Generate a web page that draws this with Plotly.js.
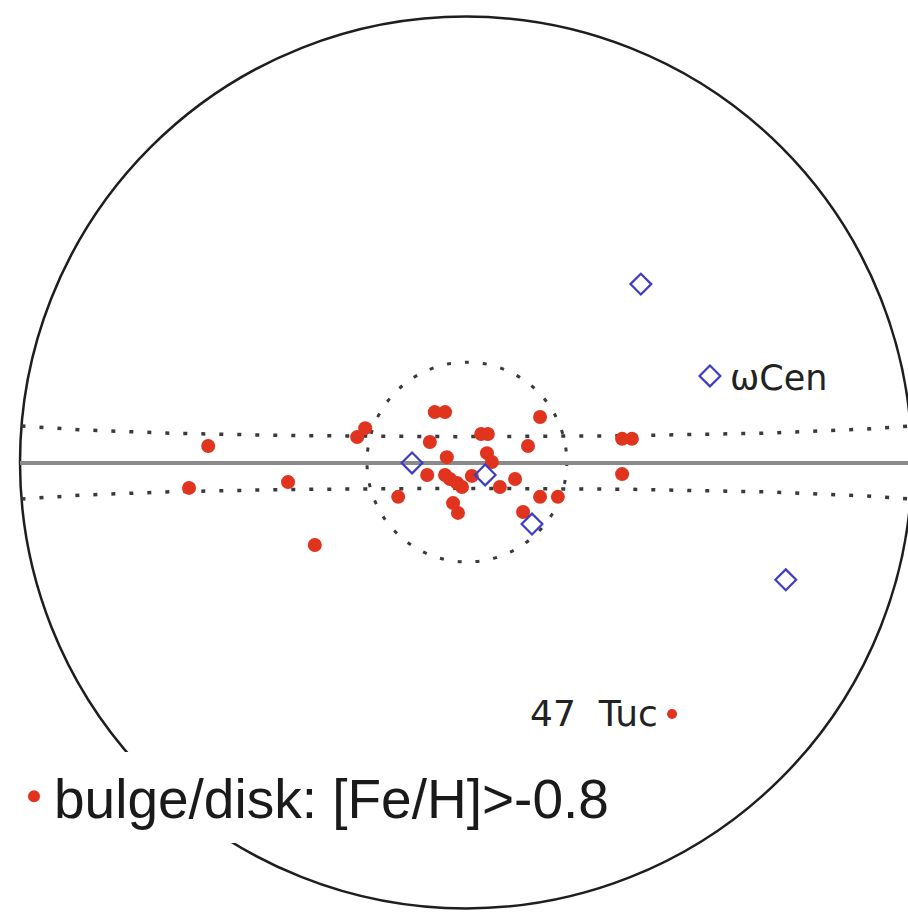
<!DOCTYPE html>
<html>
<head>
<meta charset="utf-8">
<script src="https://cdn.plot.ly/plotly-3.0.1.min.js"></script>
<style>
  html, body { margin: 0; padding: 0; background: #ffffff; }
  #chart { width: 908px; height: 913px; }
</style>
</head>
<body>
<div id="chart"></div>
<script>
// Projected sky positions; the unit circle is the edge of the map.
// Metal-rich bulge/disk clusters
const bulgeX = [-0.578, -0.621, -0.399, -0.339, -0.244, -0.226, -0.152,
                -0.070, -0.047, 0.166, 0.034, 0.049, -0.081, 0.139,
                -0.043, 0.047, 0.058, -0.087, -0.047, -0.036, -0.020,
                -0.009, 0.013, 0.076, 0.110, -0.029, -0.018, 0.128,
                0.166, 0.206, 0.350, 0.372, 0.350];
const bulgeY = [0.037, -0.057, -0.044, -0.185, 0.057, 0.077, -0.077,
                0.113, 0.113, 0.102, 0.064, 0.064, 0.046, 0.037,
                0.012, 0.021, 0.001, -0.028, -0.028, -0.037, -0.046,
                -0.055, -0.030, -0.055, -0.037, -0.091, -0.113, -0.111,
                -0.077, -0.077, 0.053, 0.053, -0.026];

// 47 Tuc
const tucX = [0.462];
const tucY = [-0.564];

// Open diamonds (includes omega Cen)
const diamondX = [0.392, 0.547, -0.121, 0.043, 0.148, 0.717];
const diamondY = [0.400, 0.194, -0.001, -0.028, -0.138, -0.263];

// Text labels
const legendName = 'bulge/disk: [Fe/H]>-0.8';
const omegaLabel = 'ωCen';
const tucLabel = '47&nbsp; Tuc';

// Dotted band edges (latitude, degrees) and bulge ring radius
const bandLat = 4.7;
const bulgeRing = 0.224;

const RED = '#e0341e';
const BLUE = '#3d3dc4';
const DOT = '4px,14px';

// A parallel of latitude in the Lambert azimuthal equal-area map,
// scaled so that the hemisphere edge has radius 1.
function parallel(latDeg) {
  const phi = latDeg * Math.PI / 180;
  const xs = [], ys = [];
  for (let lon = -90; lon <= 90; lon += 1) {
    const lam = lon * Math.PI / 180;
    const k = Math.sqrt(2 / (1 + Math.cos(phi) * Math.cos(lam)));
    xs.push(k * Math.cos(phi) * Math.sin(lam) / Math.SQRT2);
    ys.push(k * Math.sin(phi) / Math.SQRT2);
  }
  return { xs, ys };
}

const upper = parallel(bandLat);
const lower = parallel(-bandLat);

const traces = [
  { x: upper.xs, y: upper.ys, mode: 'lines', showlegend: false, hoverinfo: 'skip',
    line: { color: '#3a3a3a', width: 3.5, dash: DOT } },
  { x: lower.xs, y: lower.ys, mode: 'lines', showlegend: false, hoverinfo: 'skip',
    line: { color: '#3a3a3a', width: 3.5, dash: DOT } },
  { x: bulgeX, y: bulgeY, mode: 'markers', name: legendName,
    marker: { color: RED, size: 14, symbol: 'circle' } },
  { x: tucX, y: tucY, mode: 'markers', showlegend: false,
    marker: { color: RED, size: 10, symbol: 'circle' } },
  { x: diamondX, y: diamondY, mode: 'markers', showlegend: false,
    marker: { color: BLUE, size: 16, symbol: 'diamond-open', line: { color: BLUE, width: 2.2 } } }
];

// Axis ranges keep one unit = 446 px in both directions, map centre at (466, 462.5).
const S = 446, CX = 466, CY = 462.5, W = 908, H = 913;
const px = v => (v - CX) / S;
const py = v => (CY - v) / S;

const layout = {
  width: W, height: H,
  margin: { l: 0, r: 0, t: 0, b: 0, pad: 0 },
  paper_bgcolor: '#ffffff', plot_bgcolor: '#ffffff',
  xaxis: { range: [px(0), px(W)], visible: false, fixedrange: true },
  yaxis: { range: [py(H), py(0)], visible: false, fixedrange: true },
  showlegend: true,
  legend: {
    x: 14 / W, y: 1 - 754 / H, xanchor: 'left', yanchor: 'top',
    bgcolor: '#ffffff', borderwidth: 0,
    font: { family: 'Liberation Sans, Arial, sans-serif', size: 55, color: '#1a1a1a' },
    itemsizing: 'constant'
  },
  shapes: [
    { type: 'circle', xref: 'x', yref: 'y', x0: -1, x1: 1, y0: -1, y1: 1,
      line: { color: '#1e1e1e', width: 2.5 }, layer: 'below' },
    // white backing behind the legend, interrupting the outline
    { type: 'rect', xref: 'x', yref: 'y', x0: px(0), x1: px(238),
      y0: py(843), y1: py(752), fillcolor: '#ffffff',
      line: { width: 0 }, layer: 'below' },
    { type: 'circle', xref: 'x', yref: 'y',
      x0: 0.002 - bulgeRing, x1: 0.002 + bulgeRing, y0: 0.001 - bulgeRing, y1: 0.001 + bulgeRing,
      line: { color: '#3a3a3a', width: 3, dash: DOT }, layer: 'below' },
    { type: 'line', xref: 'x', yref: 'y', x0: -1, x1: 1, y0: -0.001, y1: -0.001,
      line: { color: '#8a8a8a', width: 4 }, layer: 'below' }
  ],
  annotations: [
    { x: 0.587, y: 0.189, xref: 'x', yref: 'y', text: omegaLabel, showarrow: false,
      xanchor: 'left', yanchor: 'middle',
      font: { family: 'DejaVu Sans, sans-serif', size: 35, color: '#222222' } },
    { x: 0.436, y: -0.562, xref: 'x', yref: 'y', text: tucLabel, showarrow: false,
      xanchor: 'right', yanchor: 'middle',
      font: { family: 'DejaVu Sans, sans-serif', size: 36, color: '#222222' } }
  ]
};

Plotly.newPlot('chart', traces, layout, { staticPlot: true, displayModeBar: false });
</script>
</body>
</html>
